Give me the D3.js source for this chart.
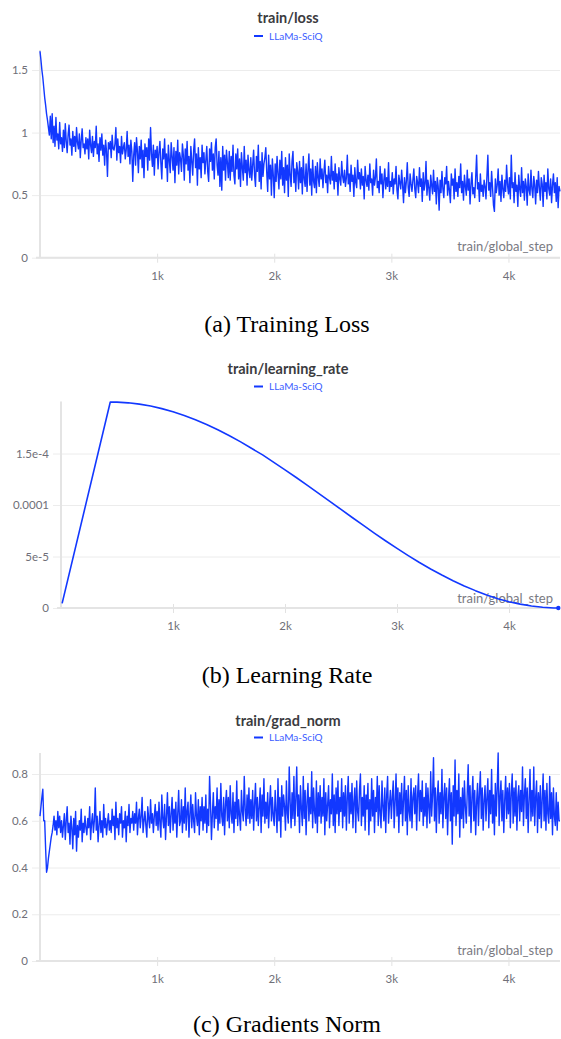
<!DOCTYPE html>
<html>
<head>
<meta charset="utf-8">
<script src="https://cdn.jsdelivr.net/npm/d3@7"></script>
<style>
  html, body { margin: 0; padding: 0; background: #fff; }
  svg { display: block; }
</style>
</head>
<body>
<svg id="chart" width="561" height="1039"></svg>
<script>
// ---------------- DATA ----------------
const seriesName = "LLaMa-SciQ";
const xAxisName = "train/global_step";
const xTickValues = [1000, 2000, 3000, 4000];
const xTickLabels = ["1k", "2k", "3k", "4k"];

// logged every 8 steps, starting at step 0
const logEvery = 8;

const lossValues = [
  1.65,1.58,1.50,1.44,1.36,1.28,1.22,1.15,1.10,1.04,0.98,1.13,0.95,1.15,0.92,1.05,0.89,1.12,0.94,0.99,0.87,1.08,0.91,0.96,0.85,
  1.02,0.88,1.07,0.93,0.84,0.98,1.06,0.90,0.95,0.82,1.01,0.89,0.97,0.85,1.04,0.92,0.87,0.99,0.80,0.94,1.03,0.88,0.91,0.83,0.96,
  0.87,0.95,0.79,1.02,0.90,0.84,0.97,0.81,0.93,0.88,1.05,0.83,0.91,0.77,0.96,0.86,0.99,0.82,0.90,0.74,0.94,0.85,0.65,0.92,0.87,
  0.93,0.80,0.98,0.87,0.86,0.91,1.04,0.78,0.95,0.84,0.89,0.76,0.97,0.83,0.88,0.92,0.79,0.86,1.01,0.81,0.90,0.75,0.94,0.85,0.61,
  0.82,0.92,0.74,0.96,0.85,0.68,0.89,0.79,0.94,0.72,0.86,0.64,0.91,0.81,0.88,0.70,0.95,0.78,1.04,0.83,0.73,0.90,0.66,0.86,0.80,
  0.89,0.71,0.84,0.93,0.76,0.63,0.87,0.79,0.95,0.72,0.83,0.61,0.90,0.78,0.68,0.92,0.81,0.70,0.88,0.60,0.85,0.74,0.94,0.67,0.84,
  0.79,0.69,0.91,0.82,0.62,0.87,0.75,0.93,0.70,0.81,0.60,0.89,0.77,0.66,0.86,0.95,0.72,0.83,0.58,0.88,0.71,0.80,0.64,0.90,0.76,
  0.84,0.67,0.78,0.89,0.69,0.61,0.87,0.77,0.92,0.70,0.83,0.63,0.88,0.95,0.74,0.66,0.85,0.57,0.80,0.54,0.89,0.70,0.82,0.62,0.86,
  0.76,0.64,0.85,0.62,0.81,0.69,0.90,0.66,0.59,0.83,0.71,0.87,0.63,0.79,0.57,0.84,0.72,0.62,0.89,0.68,0.78,0.58,0.82,0.70,0.64,
  0.80,0.62,0.74,0.86,0.66,0.57,0.81,0.69,0.90,0.61,0.77,0.55,0.84,0.65,0.75,0.80,0.88,0.68,0.53,0.82,0.63,0.74,0.50,0.79,0.66,
  0.48,0.75,0.61,0.81,0.67,0.55,0.78,0.63,0.85,0.58,0.72,0.52,0.80,0.62,0.74,0.49,0.83,0.66,0.57,0.77,0.85,0.60,0.71,0.53,0.76,
  0.69,0.55,0.77,0.60,0.72,0.51,0.81,0.63,0.57,0.75,0.53,0.70,0.83,0.58,0.71,0.50,0.78,0.61,0.56,0.73,0.52,0.76,0.64,0.57,0.79,
  0.63,0.71,0.56,0.68,0.78,0.60,0.66,0.52,0.73,0.64,0.59,0.81,0.62,0.69,0.55,0.75,0.61,0.67,0.50,0.72,0.63,0.58,0.77,0.65,0.60,
  0.70,0.57,0.64,0.82,0.59,0.67,0.53,0.74,0.61,0.66,0.49,0.72,0.60,0.56,0.78,0.63,0.68,0.55,0.71,0.58,0.65,0.47,0.73,0.62,0.57,
  0.66,0.54,0.75,0.60,0.63,0.50,0.70,0.58,0.64,0.79,0.56,0.61,0.52,0.73,0.59,0.67,0.48,0.62,0.71,0.55,0.64,0.57,0.76,0.53,0.61,
  0.57,0.68,0.51,0.63,0.59,0.73,0.54,0.47,0.66,0.60,0.55,0.70,0.58,0.44,0.64,0.52,0.61,0.76,0.56,0.49,0.67,0.59,0.53,0.62,0.71,
  0.55,0.48,0.65,0.60,0.52,0.72,0.57,0.63,0.45,0.68,0.54,0.59,0.77,0.50,0.62,0.56,0.46,0.66,0.58,0.51,0.70,0.53,0.61,0.43,0.64,
  0.57,0.38,0.62,0.52,0.69,0.55,0.48,0.64,0.59,0.73,0.50,0.61,0.54,0.44,0.67,0.58,0.63,0.47,0.71,0.53,0.60,0.49,0.65,0.56,0.75,
  0.52,0.61,0.46,0.66,0.57,0.50,0.70,0.54,0.63,0.43,0.59,0.68,0.51,0.56,0.48,0.64,0.82,0.55,0.60,0.45,0.67,0.53,0.58,0.49,0.62,
  0.57,0.47,0.65,0.82,0.54,0.60,0.49,0.69,0.56,0.42,0.37,0.63,0.52,0.58,0.71,0.50,0.61,0.45,0.66,0.55,0.48,0.62,0.53,0.74,0.58,
  0.51,0.64,0.47,0.82,0.56,0.60,0.44,0.68,0.53,0.58,0.41,0.66,0.55,0.49,0.72,0.52,0.61,0.46,0.63,0.57,0.42,0.67,0.54,0.50,0.70,
  0.55,0.48,0.65,0.58,0.43,0.62,0.52,0.69,0.56,0.46,0.64,0.59,0.41,0.66,0.53,0.60,0.47,0.71,0.55,0.50,0.63,0.44,0.58,0.67,0.52,
  0.60,0.45,0.64,0.40,0.57,0.53
];

const gradNormValues = [
  0.62,0.66,0.70,0.735,0.60,0.60,0.48,0.38,0.40,0.44,0.47,0.50,0.53,0.55,0.58,0.62,0.56,0.60,0.54,0.64,0.57,0.62,0.55,0.60,0.53,
  0.58,0.63,0.52,0.60,0.66,0.55,0.59,0.50,0.62,0.57,0.48,0.61,0.54,0.64,0.47,0.58,0.53,0.60,0.56,0.65,0.51,0.59,0.55,0.62,0.57,
  0.54,0.61,0.57,0.66,0.52,0.59,0.63,0.55,0.60,0.74,0.56,0.62,0.51,0.58,0.64,0.55,0.60,0.53,0.67,0.57,0.61,0.54,0.59,0.63,0.56,
  0.60,0.55,0.65,0.58,0.62,0.52,0.68,0.57,0.61,0.54,0.63,0.59,0.66,0.53,0.60,0.57,0.64,0.51,0.62,0.58,0.67,0.55,0.61,0.59,0.64,
  0.56,0.63,0.59,0.68,0.54,0.61,0.65,0.57,0.62,0.70,0.55,0.60,0.64,0.58,0.53,0.66,0.61,0.57,0.69,0.59,0.63,0.55,0.62,0.67,0.58,
  0.64,0.56,0.68,0.59,0.53,0.71,0.61,0.57,0.67,0.52,0.62,0.72,0.58,0.66,0.55,0.63,0.70,0.56,0.65,0.59,0.68,0.53,0.63,0.73,0.58,
  0.60,0.69,0.55,0.66,0.59,0.74,0.56,0.64,0.68,0.53,0.63,0.71,0.57,0.67,0.60,0.55,0.72,0.62,0.58,0.69,0.54,0.66,0.60,0.70,0.56,
  0.66,0.59,0.71,0.55,0.65,0.58,0.79,0.67,0.52,0.63,0.72,0.57,0.66,0.61,0.74,0.56,0.69,0.59,0.76,0.62,0.58,0.70,0.54,0.67,0.73,
  0.60,0.70,0.57,0.75,0.63,0.59,0.72,0.55,0.68,0.61,0.77,0.58,0.69,0.62,0.56,0.73,0.64,0.60,0.79,0.65,0.58,0.71,0.61,0.74,0.59,
  0.69,0.61,0.73,0.56,0.67,0.76,0.60,0.70,0.58,0.66,0.74,0.55,0.71,0.62,0.78,0.59,0.68,0.61,0.72,0.57,0.67,0.75,0.60,0.70,0.62,
  0.58,0.73,0.64,0.55,0.78,0.60,0.70,0.53,0.75,0.62,0.71,0.66,0.56,0.77,0.63,0.59,0.83,0.68,0.57,0.72,0.61,0.79,0.58,0.69,0.83,
  0.62,0.71,0.55,0.75,0.65,0.58,0.79,0.61,0.73,0.54,0.68,0.76,0.60,0.70,0.63,0.81,0.57,0.74,0.64,0.59,0.77,0.55,0.72,0.62,0.75,
  0.59,0.70,0.62,0.78,0.54,0.72,0.60,0.67,0.75,0.57,0.69,0.63,0.80,0.58,0.71,0.55,0.74,0.63,0.77,0.58,0.70,0.64,0.78,0.57,0.72,
  0.62,0.75,0.56,0.70,0.79,0.59,0.72,0.63,0.76,0.57,0.68,0.74,0.55,0.77,0.64,0.60,0.73,0.80,0.58,0.70,0.62,0.75,0.56,0.71,0.65,
  0.76,0.54,0.69,0.60,0.78,0.62,0.73,0.55,0.70,0.64,0.79,0.58,0.75,0.63,0.57,0.77,0.66,0.60,0.74,0.55,0.71,0.79,0.59,0.67,0.73,
  0.61,0.70,0.77,0.57,0.68,0.80,0.62,0.74,0.55,0.72,0.63,0.76,0.58,0.69,0.79,0.60,0.73,0.54,0.75,0.64,0.60,0.78,0.57,0.70,0.74,
  0.63,0.75,0.56,0.71,0.80,0.60,0.73,0.64,0.77,0.58,0.70,0.62,0.76,0.57,0.74,0.66,0.59,0.81,0.62,0.71,0.87,0.60,0.74,0.55,0.70,
  0.77,0.59,0.72,0.63,0.82,0.57,0.70,0.76,0.61,0.74,0.54,0.69,0.78,0.60,0.72,0.50,0.75,0.62,0.86,0.58,0.73,0.63,0.80,0.53,0.70,
  0.61,0.74,0.57,0.77,0.66,0.59,0.72,0.84,0.62,0.75,0.55,0.70,0.79,0.60,0.73,0.54,0.68,0.76,0.58,0.72,0.81,0.61,0.74,0.56,0.69,
  0.75,0.60,0.70,0.78,0.57,0.73,0.63,0.82,0.59,0.71,0.54,0.76,0.62,0.74,0.89,0.58,0.70,0.77,0.60,0.73,0.55,0.69,0.79,0.61,0.74,
  0.63,0.76,0.57,0.72,0.80,0.59,0.74,0.62,0.77,0.56,0.70,0.75,0.60,0.73,0.64,0.83,0.58,0.71,0.78,0.61,0.74,0.55,0.69,0.82,0.60,
  0.73,0.62,0.83,0.58,0.70,0.77,0.55,0.72,0.61,0.75,0.57,0.69,0.80,0.60,0.73,0.56,0.76,0.63,0.59,0.79,0.61,0.72,0.54,0.74,0.62,
  0.58,0.72,0.56,0.68,0.60,0.60
];

const lrSteps = [10, 440, 500, 600, 700, 800, 900, 1000, 1100, 1200, 1300, 1400, 1500, 1600, 1700, 1800,
                 1900, 2000, 2100, 2200, 2300, 2400, 2500, 2600, 2700, 2800, 2900, 3000, 3100, 3200,
                 3300, 3400, 3500, 3600, 3700, 3800, 3900, 4000, 4100, 4200, 4300, 4400, 4440];
const lrValues = [0.045e-4, 2.0e-4, 1.9989e-4, 1.9921e-4, 1.9793e-4, 1.9605e-4, 1.9358e-4, 1.9053e-4,
                  1.8693e-4, 1.8279e-4, 1.7816e-4, 1.7303e-4, 1.6746e-4, 1.6151e-4, 1.5507e-4, 1.4862e-4,
                  1.4136e-4, 1.3415e-4, 1.2672e-4, 1.1908e-4, 1.1134e-4, 1.0352e-4, 0.9569e-4, 0.8788e-4,
                  0.8015e-4, 0.7254e-4, 0.6508e-4, 0.5784e-4, 0.5091e-4, 0.4422e-4, 0.3792e-4, 0.3197e-4,
                  0.2649e-4, 0.2135e-4, 0.1686e-4, 0.1269e-4, 0.0908e-4, 0.0616e-4, 0.0374e-4, 0.0191e-4,
                  0.0069e-4, 0.0003e-4, 0.0];

const lossYTicks = [0, 0.5, 1, 1.5];
const lossYTickLabels = ["0", "0.5", "1", "1.5"];
const lrYTicks = [0, 5e-5, 1e-4, 1.5e-4];
const lrYTickLabels = ["0", "5e-5", "0.0001", "1.5e-4"];
const gnYTicks = [0, 0.2, 0.4, 0.6, 0.8];
const gnYTickLabels = ["0", "0.2", "0.4", "0.6", "0.8"];

const panelTitles = ["train/loss", "train/learning_rate", "train/grad_norm"];
const panelCaptions = ["(a) Training Loss", "(b) Learning Rate", "(c) Gradients Norm"];

// ---------------- DRAW ----------------
const svg = d3.select("#chart");
const LINE = "#1238ff";
const SANS = "Lato, 'Open Sans', sans-serif";

function toPoints(values) { return values.map((v, i) => ({ x: i * logEvery, y: v })); }

function drawPanel(cfg) {
  const g = svg.append("g");
  const x = d3.scaleLinear().domain(cfg.xDomain).range(cfg.xRange);
  const y = d3.scaleLinear().domain(cfg.yDomain).range(cfg.yRange);
  const x0 = cfg.xRange[0], x1 = cfg.xRange[1];
  const yb = cfg.yRange[0], yt = cfg.yRange[1];

  // gridlines with y axis (tick extends left of axis)
  const yAxis = d3.axisLeft(y).tickValues(cfg.yTicks)
    .tickFormat((d, i) => cfg.yTickLabels[i])
    .tickSize(-(x1 - x0 + 8));
  const ya = g.append("g").attr("transform", `translate(${x0 - 8},0)`).call(yAxis);
  ya.select(".domain").remove();
  ya.selectAll(".tick line").attr("stroke", "#ececec").attr("stroke-width", 1);
  ya.selectAll(".tick text").attr("x", -4).attr("fill", "#6f6f78")
    .attr("font-family", SANS).attr("font-size", 11.5).attr("text-anchor", "end");

  // x axis with small tick marks
  const xAxis = d3.axisBottom(x).tickValues(xTickValues)
    .tickFormat((d, i) => xTickLabels[i]).tickSize(0);
  const xa = g.append("g").attr("transform", `translate(0,${yb})`).call(xAxis);
  xa.select(".domain").remove();
  xa.selectAll(".tick text").attr("y", 22).attr("dy", 0).attr("fill", "#6f6f78")
    .attr("font-family", SANS).attr("font-size", 11.5);
  xa.selectAll(".tick").append("line")
    .attr("y1", -4).attr("y2", 5).attr("stroke", "#e2e2e2").attr("stroke-width", 1);

  // axis lines
  g.append("line").attr("x1", x0 - 4).attr("x2", x1).attr("y1", yb).attr("y2", yb)
    .attr("stroke", "#e4e4e4").attr("stroke-width", 2);
  g.append("line").attr("x1", x0).attr("x2", x0).attr("y1", yt).attr("y2", yb)
    .attr("stroke", "#e4e4e4").attr("stroke-width", 2);

  // x axis name
  g.append("text").attr("x", 553).attr("y", cfg.stepLabelY).attr("text-anchor", "end")
    .attr("font-family", SANS).attr("font-size", 13).attr("fill", "#7a7a82").text(xAxisName);

  // line
  const line = d3.line().x(d => x(d.x)).y(d => y(d.y)).curve(d3.curveLinear);
  g.append("path").datum(cfg.points).attr("d", line).attr("fill", "none")
    .attr("stroke", LINE).attr("stroke-width", cfg.strokeWidth).attr("stroke-linejoin", "round");

  if (cfg.endDot) {
    const last = cfg.points[cfg.points.length - 1];
    g.append("circle").attr("cx", x(last.x)).attr("cy", y(last.y)).attr("r", 2.2).attr("fill", LINE);
  }

  // title and legend
  g.append("text").attr("x", 288).attr("y", cfg.titleY).attr("text-anchor", "middle")
    .attr("font-family", SANS).attr("font-size", 14.5).attr("font-weight", 700)
    .attr("fill", "#3b3b40").text(cfg.title);
  g.append("line").attr("x1", 254).attr("x2", 263).attr("y1", cfg.legendY - 3.5).attr("y2", cfg.legendY - 3.5)
    .attr("stroke", LINE).attr("stroke-width", 2);
  g.append("text").attr("x", 269).attr("y", cfg.legendY)
    .attr("font-family", SANS).attr("font-size", 10).attr("fill", "#3a5cff").text(seriesName);

  // caption
  svg.append("text").attr("x", 287).attr("y", cfg.captionY).attr("text-anchor", "middle")
    .attr("font-family", "'Liberation Serif', 'Times New Roman', serif").attr("font-size", 24)
    .attr("fill", "#000").text(cfg.caption);
}

drawPanel({
  title: panelTitles[0], caption: panelCaptions[0],
  points: toPoints(lossValues), strokeWidth: 1.4,
  xDomain: [0, 4440], xRange: [40, 560],
  yDomain: [0, 1.66], yRange: [257.7, 50],
  yTicks: lossYTicks, yTickLabels: lossYTickLabels,
  titleY: 23, legendY: 39.5, stepLabelY: 251, captionY: 332
});

drawPanel({
  title: panelTitles[1], caption: panelCaptions[1],
  points: lrSteps.map((s, i) => ({ x: s, y: lrValues[i] })), strokeWidth: 1.6, endDot: true,
  xDomain: [0, 4455], xRange: [61, 560],
  yDomain: [0, 2.005e-4], yRange: [608, 401.5],
  yTicks: lrYTicks, yTickLabels: lrYTickLabels,
  titleY: 374, legendY: 390, stepLabelY: 603, captionY: 683
});

drawPanel({
  title: panelTitles[2], caption: panelCaptions[2],
  points: toPoints(gradNormValues), strokeWidth: 1.4,
  xDomain: [0, 4440], xRange: [40, 560],
  yDomain: [0, 0.89], yRange: [961, 753],
  yTicks: gnYTicks, yTickLabels: gnYTickLabels,
  titleY: 726, legendY: 741, stepLabelY: 955, captionY: 1032
});
</script>
</body>
</html>
